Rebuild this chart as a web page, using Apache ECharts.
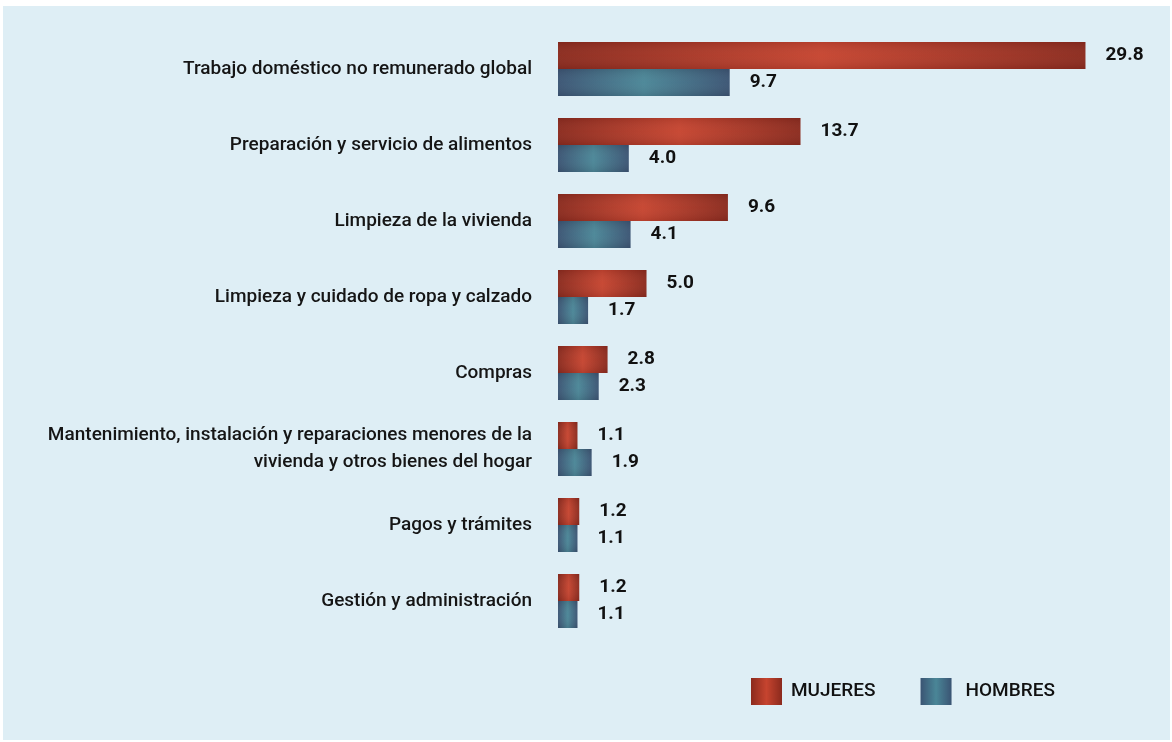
<!DOCTYPE html>
<html>
<head>
<meta charset="utf-8">
<script src="https://cdn.jsdelivr.net/npm/echarts@6/dist/echarts.min.js"></script>
<style>
  html, body { margin: 0; padding: 0; background: #ffffff; }
  #chart { position: absolute; left: 3px; top: 6px; width: 1167px; height: 734px; }
</style>
</head>
<body>
<div id="chart"></div>
<script>
// Horas semanales dedicadas al trabajo doméstico no remunerado, por sexo
const categories = [
  'Trabajo doméstico no remunerado global',
  'Preparación y servicio de alimentos',
  'Limpieza de la vivienda',
  'Limpieza y cuidado de ropa y calzado',
  'Compras',
  'Mantenimiento, instalación y reparaciones menores de la\nvivienda y otros bienes del hogar',
  'Pagos y trámites',
  'Gestión y administración'
];
const mujeres = [29.8, 13.7, 9.6, 5.0, 2.8, 1.1, 1.2, 1.2];
const hombres = [9.7, 4.0, 4.1, 1.7, 2.3, 1.9, 1.1, 1.1];
const seriesNames = ['MUJERES', 'HOMBRES'];

const FONT = 'Roboto, "Noto Sans", sans-serif';

// horizontal shading: darker ends, lighter middle
function barShade(edge, mid) {
  return new echarts.graphic.LinearGradient(0, 0, 1, 0, [
    { offset: 0, color: edge },
    { offset: 0.5, color: mid },
    { offset: 1, color: edge }
  ]);
}
// soft vertical shading laid over the bars to round them off
const edgeShade = new echarts.graphic.LinearGradient(0, 0, 0, 1, [
  { offset: 0, color: 'rgba(30,10,20,0.10)' },
  { offset: 0.5, color: 'rgba(255,255,255,0.03)' },
  { offset: 1, color: 'rgba(30,10,20,0.10)' }
]);

const valueLabel = {
  show: true,
  position: 'right',
  distance: 20,
  fontFamily: FONT,
  fontSize: 19,
  fontWeight: 'bold',
  color: '#111111',
  formatter: p => p.value.toFixed(1)
};

const barLayout = { type: 'bar', barGap: '0%', barCategoryGap: '29%' };

const chart = echarts.init(document.getElementById('chart'));
chart.setOption({
  backgroundColor: '#deeef5',
  animation: false,
  grid: { left: 555, top: 25, bottom: 101, right: 81, containLabel: false },
  xAxis: { type: 'value', min: 0, max: 30, show: false },
  yAxis: [
    {
      type: 'category',
      inverse: true,
      data: categories,
      axisLine: { show: false },
      axisTick: { show: false },
      splitLine: { show: false },
      axisLabel: {
        margin: 26,
        fontFamily: FONT,
        fontSize: 19,
        fontWeight: 500,
        color: '#151515',
        align: 'right',
        lineHeight: 27
      }
    },
    { type: 'category', inverse: true, data: categories, show: false }
  ],
  legend: {
    data: [
      { name: seriesNames[0] },
      { name: seriesNames[1], textStyle: { padding: [0, 0, 0, 9] } }
    ],
    left: 748,
    top: 672,
    padding: 0,
    itemWidth: 31,
    itemHeight: 27,
    itemGap: 45,
    icon: 'rect',
    textStyle: { fontFamily: FONT, fontSize: 19, fontWeight: 500, color: '#111111', padding: [0, 0, 0, 4] }
  },
  series: [
    Object.assign({}, barLayout, {
      name: seriesNames[0],
      data: mujeres,
      itemStyle: { color: barShade('#8b2a1d', '#c6442f') },
      label: valueLabel
    }),
    Object.assign({}, barLayout, {
      name: seriesNames[1],
      data: hombres,
      itemStyle: { color: barShade('#3a5473', '#4a8697') },
      label: valueLabel
    }),
    Object.assign({}, barLayout, {
      name: 'sombra-m',
      yAxisIndex: 1,
      data: mujeres,
      silent: true,
      itemStyle: { color: edgeShade }
    }),
    Object.assign({}, barLayout, {
      name: 'sombra-h',
      yAxisIndex: 1,
      data: hombres,
      silent: true,
      itemStyle: { color: edgeShade }
    })
  ]
});
</script>
</body>
</html>
